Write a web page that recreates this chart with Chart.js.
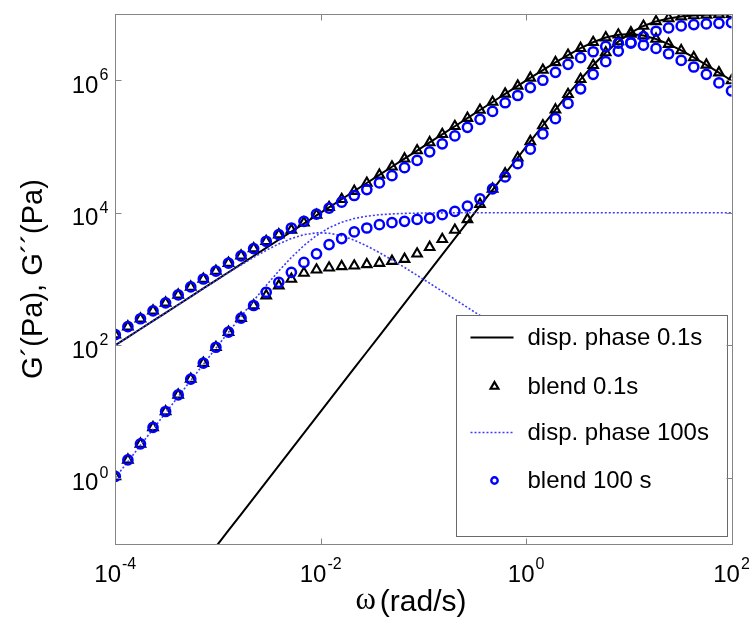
<!DOCTYPE html>
<html>
<head>
<meta charset="utf-8">
<title>G' and G'' versus frequency</title>
<script src="https://cdn.jsdelivr.net/npm/chart.js@4.4.1/dist/chart.umd.min.js"></script>
<style>
html, body { margin: 0; padding: 0; background: #ffffff; }
#box { width: 753px; height: 622px; position: relative; }
canvas { display: block; }
</style>
</head>
<body>
<div id="box"><canvas id="chart" width="753" height="622"></canvas></div>
<script>
// ---- data ----
const omega = [1.000e-4, 1.326e-4, 1.758e-4, 2.330e-4, 3.089e-4, 4.095e-4, 5.429e-4, 7.197e-4, 9.541e-4, 1.265e-3,
  1.677e-3, 2.223e-3, 2.947e-3, 3.907e-3, 5.179e-3, 6.866e-3, 9.103e-3, 1.207e-2, 1.600e-2, 2.121e-2,
  2.812e-2, 3.728e-2, 4.942e-2, 6.551e-2, 8.685e-2, 0.1151, 0.1526, 0.2024, 0.2683, 0.3556,
  0.4715, 0.6251, 0.8286, 1.099, 1.456, 1.931, 2.560, 3.393, 4.498, 5.964,
  7.906, 10.48, 13.89, 18.42, 24.42, 32.37, 42.92, 56.90, 75.43, 100.0];

// disp. phase 0.1s (solid black): G' and G''
const dispFastStorage = [1.00e-3, 1.76e-3, 3.09e-3, 5.43e-3, 9.55e-3, 1.68e-2, 2.95e-2, 5.18e-2, 9.10e-2, 0.160,
  0.281, 0.494, 0.869, 1.53, 2.69, 4.71, 8.28, 14.6, 25.6, 45.0,
  79.1, 139, 244, 430, 755, 1324, 2328, 4093, 7211, 12650,
  22130, 38900, 68080, 1.194e5, 2.075e5, 3.597e5, 6.152e5, 1.033e6, 1.683e6, 2.624e6,
  3.846e6, 5.236e6, 6.592e6, 7.727e6, 8.570e6, 9.141e6, 9.484e6, 9.705e6, 9.840e6, 9.908e6];
const dispFastLoss = [100, 132.6, 175.8, 233, 309, 409, 543, 720, 954, 1265,
  1675, 2223, 2944, 3908, 5176, 6871, 9100, 12080, 16000, 21230,
  28120, 37240, 49430, 65460, 86890, 1.151e5, 1.528e5, 2.023e5, 2.685e5, 3.556e5,
  4.699e5, 6.223e5, 8.222e5, 1.086e6, 1.426e6, 1.862e6, 2.404e6, 3.048e6, 3.741e6, 4.406e6,
  4.864e6, 5.000e6, 4.742e6, 4.198e6, 3.508e6, 2.818e6, 2.208e6, 1.706e6, 1.303e6, 9.91e5];

// blend 0.1s (triangles): G' and G''
const blendFastStorage = [1.05, 1.86, 3.24, 5.75, 10.0, 17.8, 30.9, 53.7, 93.3, 158,
  257, 398, 562, 794, 1000, 1230, 1380, 1479, 1549, 1585,
  1660, 1738, 1862, 1995, 2399, 3020, 3981, 5495, 7943, 13490,
  22910, 38900, 67610, 1.194e5, 2.075e5, 3.597e5, 6.152e5, 1.033e6, 1.683e6, 2.624e6,
  3.846e6, 5.236e6, 6.592e6, 7.727e6, 8.570e6, 9.141e6, 9.484e6, 9.705e6, 9.840e6, 9.908e6];
const blendFastLoss = [144.5, 190.5, 251.2, 331.1, 436.5, 575.4, 758.6, 1000, 1318, 1738,
  2239, 2884, 3715, 4677, 5495, 7079, 9226, 12080, 16000, 21230,
  28120, 37240, 49430, 65460, 86890, 1.151e5, 1.528e5, 2.023e5, 2.685e5, 3.556e5,
  4.699e5, 6.223e5, 8.222e5, 1.086e6, 1.426e6, 1.862e6, 2.404e6, 3.048e6, 3.741e6, 4.406e6,
  4.864e6, 5.000e6, 4.742e6, 4.198e6, 3.508e6, 2.818e6, 2.208e6, 1.706e6, 1.303e6, 9.91e5];

// disp. phase 100s (dotted blue): G' and G'' (last loss points hidden behind the legend)
const dispSlowStorage = [1.000, 1.754, 3.090, 5.420, 9.550, 16.71, 29.44, 51.52, 90.36, 157.4,
  272.9, 471.0, 798.0, 1324, 2113, 3206, 4529, 5929, 7194, 8185,
  8872, 9333, 9616, 9772, 9863, 9931, 9957, 9976, 9986, 9992,
  9995, 9997, 9998, 9999, 9999, 10000, 10000, 10000, 10000, 10000,
  10000, 10000, 10000, 10000, 10000, 10000, 10000, 10000, 10000, 10000];
const dispSlowLoss = [100, 132.5, 175.8, 232.7, 309.0, 408.3, 542.0, 716.1, 946.2, 1245,
  1629, 2118, 2710, 3388, 4083, 4667, 4977, 4909, 4498, 3855,
  3155, 2506, 1945, 1493, 1135, 863, 652, 493, 372, 281,
  212, 160, 121, 91.0, 68.7, 51.8, 39.1, 29.4, 22.2, 16.7,
  12.6, 9.55, 7.19, 5.43, 4.09, 3.09, 2.33, 1.76, null, null];

// blend 100 s (circles): G' and G''
const blendSlowStorage = [1.05, 1.86, 3.24, 5.75, 10.0, 17.8, 30.9, 53.7, 93.3, 158,
  257, 398, 631, 891, 1259, 1778, 2399, 3311, 4074, 5129,
  5888, 6607, 7079, 7413, 7943, 8318, 9333, 10470, 12590, 16220,
  22910, 34670, 54950, 91200, 1.549e5, 2.630e5, 4.467e5, 7.413e5, 1.230e6, 1.905e6,
  2.754e6, 3.631e6, 4.571e6, 5.495e6, 6.166e6, 6.607e6, 6.918e6, 7.079e6, 7.244e6, 7.413e6];
const blendSlowLoss = [144.5, 190.5, 251.2, 331.1, 436.5, 575.4, 758.6, 1000, 1318, 1738,
  2239, 2884, 3715, 4677, 5888, 7413, 9550, 11750, 14450, 18200,
  22390, 28180, 36310, 47860, 61660, 83180, 1.096e5, 1.445e5, 1.950e5, 2.570e5,
  3.388e5, 4.571e5, 5.888e5, 7.762e5, 1.000e6, 1.318e6, 1.738e6, 2.188e6, 2.692e6, 3.236e6,
  3.631e6, 3.715e6, 3.388e6, 3.020e6, 2.512e6, 1.995e6, 1.585e6, 1.230e6, 9.12e5, 6.92e5];

const legendLabels = ['disp. phase 0.1s', 'blend 0.1s', 'disp. phase 100s', 'blend 100 s'];
const xTickValues = [1e-4, 1e-2, 1e0, 1e2];
const xTickExponents = ['-4', '-2', '0', '2'];
const yTickValues = [1e0, 1e2, 1e4, 1e6];
const yTickExponents = ['0', '2', '4', '6'];
const xTitleSymbol = 'ω';
const xTitleUnit = '(rad/s)';
const yTitle = 'G´(Pa), G´´(Pa)';

// ---- styles ----
const FONT = "'Liberation Sans', Arial, Helvetica, sans-serif";
const SERIF = "'Liberation Serif', 'DejaVu Serif', serif";
const BLACK = '#000000';
const BLUE = '#0000ff';
const DOT_BLUE = '#3c3cff';
const AXIS = '#858585';
const DOT_DASH = [2, 2];

Chart.defaults.font.family = FONT;

function pairs(ys) { return omega.map((w, i) => ({ x: w, y: ys[i] })); }

function lineSet(label, ys, color, width, dash, order) {
  return { label, data: pairs(ys), showLine: true, borderColor: color, borderWidth: width,
    borderDash: dash, pointRadius: 0, pointHoverRadius: 0, tension: 0, spanGaps: false, order };
}
function markerSet(label, ys, style, color, radius, bw, order) {
  return { label, data: pairs(ys), showLine: false, pointStyle: style, pointRadius: radius,
    pointHoverRadius: radius, pointBorderWidth: bw, borderColor: color,
    pointBorderColor: color, pointBackgroundColor: 'rgba(0,0,0,0)', backgroundColor: 'rgba(0,0,0,0)', order };
}

const legendItems = [
  { kind: 'line', color: BLACK, width: 2, dash: [] },
  { kind: 'triangle', color: BLACK },
  { kind: 'line', color: DOT_BLUE, width: 1.6, dash: DOT_DASH },
  { kind: 'circle', color: BLUE }
];

const decorations = {
  id: 'decorations',
  afterDraw(chart) {
    const { ctx, chartArea: a, scales } = chart;
    const sx = scales.x, sy = scales.y;
    ctx.save();

    // legend box (inside plot, lower right)
    const lw = 271, lh = 221;
    const lx = Math.round(a.right - 5 - lw) + 0.5, ly = Math.round(a.bottom - 8 - lh) + 0.5;
    ctx.fillStyle = '#ffffff';
    ctx.fillRect(lx, ly, lw, lh);
    ctx.strokeStyle = '#6a6a6a';
    ctx.lineWidth = 1;
    ctx.setLineDash([]);
    ctx.strokeRect(lx, ly, lw, lh);
    const rows = [22, 71, 117, 165];
    legendLabels.forEach((txt, k) => {
      const cy = ly + rows[k];
      const it = legendItems[k];
      const mx = lx + 38;
      if (it.kind === 'line') {
        ctx.beginPath();
        ctx.strokeStyle = it.color; ctx.lineWidth = it.width; ctx.setLineDash(it.dash);
        ctx.moveTo(lx + 14, cy); ctx.lineTo(lx + 57, cy); ctx.stroke();
        ctx.setLineDash([]);
      } else if (it.kind === 'triangle') {
        const r = 4.5;
        ctx.beginPath();
        ctx.strokeStyle = it.color; ctx.lineWidth = 2.2;
        ctx.moveTo(mx, cy - r);
        ctx.lineTo(mx + r * 0.866, cy + r * 0.5);
        ctx.lineTo(mx - r * 0.866, cy + r * 0.5);
        ctx.closePath(); ctx.stroke();
      } else {
        ctx.beginPath();
        ctx.strokeStyle = it.color; ctx.lineWidth = 2.4;
        ctx.arc(mx, cy, 3.2, 0, Math.PI * 2); ctx.stroke();
      }
      ctx.fillStyle = '#000';
      ctx.font = '24px ' + FONT;
      ctx.textAlign = 'left';
      ctx.textBaseline = 'middle';
      ctx.fillText(txt, lx + 71, cy + 1);
    });

    // axes box
    ctx.strokeStyle = AXIS; ctx.lineWidth = 1;
    const L = Math.round(a.left) + 0.5, R = Math.round(a.right) + 0.5;
    const T = Math.round(a.top) + 0.5, B = Math.round(a.bottom) + 0.5;
    ctx.strokeRect(L, T, R - L, B - T);
    const tl = 6;
    ctx.beginPath();
    xTickValues.forEach(v => {
      const px = Math.round(sx.getPixelForValue(v)) + 0.5;
      ctx.moveTo(px, B); ctx.lineTo(px, B - tl);
      ctx.moveTo(px, T); ctx.lineTo(px, T + tl);
    });
    yTickValues.forEach(v => {
      const py = Math.round(sy.getPixelForValue(v)) + 0.5;
      ctx.moveTo(L, py); ctx.lineTo(L + tl, py);
      ctx.moveTo(R, py); ctx.lineTo(R - tl, py);
    });
    ctx.stroke();

    // tick labels: 10 with superscript exponent
    ctx.fillStyle = '#000';
    ctx.textBaseline = 'alphabetic';
    ctx.textAlign = 'left';
    const baseFont = '24px ' + FONT, expFont = '16px ' + FONT;
    xTickValues.forEach((v, k) => {
      const px = sx.getPixelForValue(v);
      ctx.font = baseFont; const wb = ctx.measureText('10').width;
      ctx.font = expFont; const we = ctx.measureText(xTickExponents[k]).width;
      const left = px - (wb + we + 1) / 2;
      ctx.font = baseFont; ctx.fillText('10', left, a.bottom + 38);
      ctx.font = expFont; ctx.fillText(xTickExponents[k], left + wb + 1, a.bottom + 25);
    });
    yTickValues.forEach((v, k) => {
      const py = sy.getPixelForValue(v);
      ctx.font = baseFont; const wb = ctx.measureText('10').width;
      ctx.font = expFont; const we = ctx.measureText(yTickExponents[k]).width;
      const right = a.left - 7;
      ctx.font = expFont; ctx.fillText(yTickExponents[k], right - we, py);
      ctx.font = baseFont; ctx.fillText('10', right - we - 1 - wb, py + 12.5);
    });

    // x-axis title: omega symbol + unit
    ctx.textBaseline = 'middle';
    ctx.font = '31px ' + SERIF; const ws = ctx.measureText(xTitleSymbol).width;
    ctx.font = '30px ' + FONT; const wu = ctx.measureText(xTitleUnit).width;
    const gap = 4;
    const x0 = 411 - (ws + gap + wu) / 2;
    ctx.font = '31px ' + SERIF; ctx.fillText(xTitleSymbol, x0, 601);
    ctx.font = '30px ' + FONT; ctx.fillText(xTitleUnit, x0 + ws + gap, 603);
    ctx.restore();
  }
};

new Chart(document.getElementById('chart'), {
  type: 'scatter',
  data: {
    datasets: [
      markerSet('blend 100 s (G\u2032)', blendSlowStorage, 'circle', BLUE, 4.6, 2.5, 0),
      markerSet('blend 100 s (G\u2033)', blendSlowLoss, 'circle', BLUE, 4.6, 2.5, 0),
      lineSet('disp. phase 100s (G\u2032)', dispSlowStorage, DOT_BLUE, 1.6, DOT_DASH, 1),
      lineSet('disp. phase 100s (G\u2033)', dispSlowLoss, DOT_BLUE, 1.6, DOT_DASH, 1),
      markerSet('blend 0.1s (G\u2032)', blendFastStorage, 'triangle', BLACK, 5.5, 2.1, 2),
      markerSet('blend 0.1s (G\u2033)', blendFastLoss, 'triangle', BLACK, 5.5, 2.1, 2),
      lineSet('disp. phase 0.1s (G\u2032)', dispFastStorage, BLACK, 2, [], 3),
      lineSet('disp. phase 0.1s (G\u2033)', dispFastLoss, BLACK, 2, [], 3)
    ]
  },
  options: {
    responsive: false,
    animation: false,
    devicePixelRatio: 1,
    events: [],
    layout: { padding: { left: 0, right: 21.5, top: 14, bottom: 0 } },
    scales: {
      x: {
        type: 'logarithmic', min: 1e-4, max: 1e2,
        grid: { display: false }, border: { display: false },
        ticks: { display: false },
        title: { display: false },
        afterFit(s) { s.height = 78; }
      },
      y: {
        type: 'logarithmic', min: 1e-1, max: 1e7,
        grid: { display: false }, border: { display: false },
        ticks: { display: false },
        title: { display: true, text: yTitle, color: '#000', font: { size: 29, family: FONT }, padding: { top: 17, bottom: 0 } },
        afterFit(s) { s.width = 115.3; }
      }
    },
    plugins: { legend: { display: false }, tooltip: { enabled: false } }
  },
  plugins: [decorations]
});
</script>
</body>
</html>
